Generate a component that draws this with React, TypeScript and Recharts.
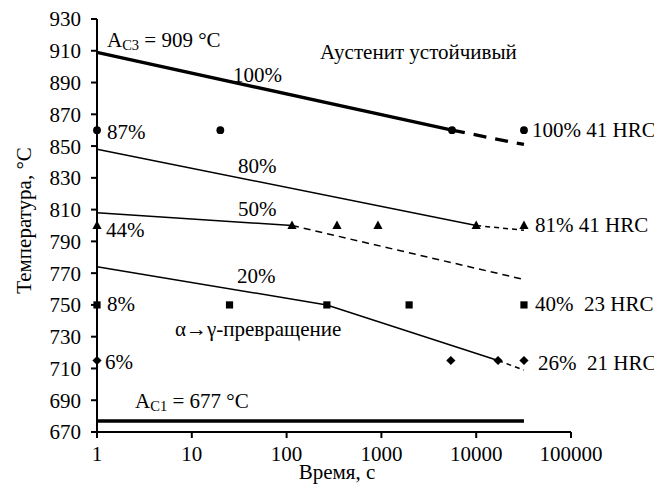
import React from 'react';
import { ComposedChart, Line, Scatter, XAxis, YAxis, ReferenceDot } from 'recharts';

const FONT = 'Liberation Serif';
const FS = 21;

const xTicks = [1, 10, 100, 1000, 10000, 100000];
const yTicks = [670, 690, 710, 730, 750, 770, 790, 810, 830, 850, 870, 890, 910, 930];

// measured points
const circles = [{ x: 1, y: 860 }, { x: 20, y: 860 }, { x: 5560, y: 860 }, { x: 31900, y: 860 }];
const triangles = [{ x: 1, y: 800 }, { x: 114, y: 800 }, { x: 340, y: 800 }, { x: 920, y: 800 }, { x: 10000, y: 800 }, { x: 31900, y: 800 }];
const squares = [{ x: 1, y: 750 }, { x: 25, y: 750 }, { x: 266, y: 750 }, { x: 1960, y: 750 }, { x: 31900, y: 750 }];
const diamonds = [{ x: 1, y: 715 }, { x: 5400, y: 715 }, { x: 17000, y: 715 }, { x: 31900, y: 715 }];

// iso-lines
const line100Solid = [{ x: 1, y: 909 }, { x: 5560, y: 860 }];
const line100Dash = [{ x: 5560, y: 860 }, { x: 31900, y: 851 }];
const line80Solid = [{ x: 1, y: 848 }, { x: 10000, y: 800 }];
const line80Dash = [{ x: 10000, y: 800 }, { x: 31900, y: 797 }];
const line50Solid = [{ x: 1, y: 808 }, { x: 114, y: 800 }];
const line50Dash = [{ x: 114, y: 800 }, { x: 31900, y: 766 }];
const line20Solid = [{ x: 1, y: 774 }, { x: 266, y: 750 }, { x: 17000, y: 715 }];
const line20Dash = [{ x: 17000, y: 715 }, { x: 31900, y: 709 }];
const ac1Line = [{ x: 1, y: 677 }, { x: 31900, y: 677 }];

// annotations: position in data units, text start-anchored
const plainLabels = [
  { x: 27.2, y: 894.8, text: '100%' },
  { x: 225, y: 909.4, text: 'Аустенит устойчивый' },
  { x: 1.275, y: 859, text: '87%' },
  { x: 38800, y: 860, text: '100% 41 HRC' },
  { x: 30.7, y: 837.5, text: '80%' },
  { x: 30.7, y: 810.7, text: '50%' },
  { x: 1.245, y: 797, text: '44%' },
  { x: 41700, y: 800.6, text: '81% 41 HRC' },
  { x: 30, y: 768.5, text: '20%' },
  { x: 1.275, y: 750.8, text: '8%' },
  { x: 6.65, y: 735, text: 'α→γ-превращение' },
  { x: 1.214, y: 714.2, text: '6%' },
  { x: 41700, y: 750.8, text: '40%  23 HRC' },
  { x: 44900, y: 713.2, text: '26%  21 HRC' },
];
const subLabels = [
  { x: 1.275, y: 916.9, main: 'A', sub: 'C3', rest: ' = 909 °C' },
  { x: 2.52, y: 689.4, main: 'A', sub: 'C1', rest: ' = 677 °C' },
];

const CircleShape = (p: any) => <circle cx={p.cx} cy={p.cy} r={3.9} fill="#000" />;
const TriangleShape = (p: any) => (
  <polygon points={`${p.cx},${p.cy - 5} ${p.cx + 4.6},${p.cy + 3.6} ${p.cx - 4.6},${p.cy + 3.6}`} fill="#000" />
);
const SquareShape = (p: any) => <rect x={p.cx - 3.6} y={p.cy - 3.6} width={7.2} height={7.2} fill="#000" />;
const DiamondShape = (p: any) => (
  <polygon points={`${p.cx},${p.cy - 4.6} ${p.cx + 4.6},${p.cy} ${p.cx},${p.cy + 4.6} ${p.cx - 4.6},${p.cy}`} fill="#000" />
);

const makePlain = (text: string) => (props: any) => {
  const vb = props.viewBox || {};
  return (
    <text x={vb.x} y={vb.y} textAnchor="start" dominantBaseline="central" fontFamily={FONT} fontSize={FS} fill="#000" style={{ whiteSpace: 'pre' }}>
      {text}
    </text>
  );
};

const makeSub = (main: string, sub: string, rest: string) => (props: any) => {
  const vb = props.viewBox || {};
  return (
    <text x={vb.x} y={vb.y} textAnchor="start" dominantBaseline="central" fontFamily={FONT} fontSize={FS} fill="#000" style={{ whiteSpace: 'pre' }}>
      <tspan>{main}</tspan>
      <tspan dy={5} fontSize={14.5}>{sub}</tspan>
      <tspan dy={-5}>{rest}</tspan>
    </text>
  );
};

const YLabel = (props: any) => {
  const vb = props.viewBox || {};
  const cx = vb.x + 16;
  const cy = vb.y + vb.height / 2 - 5;
  return (
    <text x={cx} y={cy} transform={`rotate(-90, ${cx}, ${cy})`} textAnchor="middle" dominantBaseline="central" fontFamily={FONT} fontSize={FS} fill="#000">
      Температура, °C
    </text>
  );
};

const XLabel = (props: any) => {
  const vb = props.viewBox || {};
  const cx = vb.x + vb.width / 2 + 3;
  const cy = vb.y + 40;
  return (
    <text x={cx} y={cy} textAnchor="middle" dominantBaseline="central" fontFamily={FONT} fontSize={FS} fill="#000">
      Время, с
    </text>
  );
};

const tickStyle = { fontFamily: FONT, fontSize: FS, fill: '#000' };

export default function App() {
  return (
    <div style={{ width: 654, height: 484, background: '#fff' }}>
      <ComposedChart width={654} height={484} margin={{ top: 11, right: 91, bottom: 0, left: 0 }}>
        <XAxis
          dataKey="x"
          type="number"
          scale="log"
          domain={[1, 100000]}
          ticks={xTicks}
          interval={0}
          height={60}
          tick={tickStyle}
          tickSize={6}
          tickMargin={8}
          axisLine={{ stroke: '#000', strokeWidth: 2 }}
          tickLine={{ stroke: '#000', strokeWidth: 2 }}
          label={<XLabel />}
        />
        <YAxis
          dataKey="y"
          type="number"
          domain={[670, 930]}
          ticks={yTicks}
          interval={0}
          width={89}
          tick={tickStyle}
          tickSize={6}
          tickMargin={10}
          axisLine={{ stroke: '#000', strokeWidth: 2 }}
          tickLine={{ stroke: '#000', strokeWidth: 2 }}
          label={<YLabel />}
        />

        <Line data={ac1Line} dataKey="y" stroke="#000" strokeWidth={3.5} dot={false} isAnimationActive={false} />
        <Line data={line100Solid} dataKey="y" stroke="#000" strokeWidth={3.3} dot={false} isAnimationActive={false} />
        <Line data={line100Dash} dataKey="y" stroke="#000" strokeWidth={3.3} strokeDasharray="13 9" dot={false} isAnimationActive={false} />
        <Line data={line80Solid} dataKey="y" stroke="#000" strokeWidth={1.5} dot={false} isAnimationActive={false} />
        <Line data={line80Dash} dataKey="y" stroke="#000" strokeWidth={1.5} strokeDasharray="5 4" dot={false} isAnimationActive={false} />
        <Line data={line50Solid} dataKey="y" stroke="#000" strokeWidth={1.5} dot={false} isAnimationActive={false} />
        <Line data={line50Dash} dataKey="y" stroke="#000" strokeWidth={1.5} strokeDasharray="7 5" dot={false} isAnimationActive={false} />
        <Line data={line20Solid} dataKey="y" stroke="#000" strokeWidth={1.5} dot={false} isAnimationActive={false} />
        <Line data={line20Dash} dataKey="y" stroke="#000" strokeWidth={1.5} strokeDasharray="5 4" dot={false} isAnimationActive={false} />

        <Scatter data={circles} dataKey="y" shape={CircleShape} isAnimationActive={false} />
        <Scatter data={triangles} dataKey="y" shape={TriangleShape} isAnimationActive={false} />
        <Scatter data={squares} dataKey="y" shape={SquareShape} isAnimationActive={false} />
        <Scatter data={diamonds} dataKey="y" shape={DiamondShape} isAnimationActive={false} />

        {plainLabels.map((l, i) => (
          <ReferenceDot key={'p' + i} x={l.x} y={l.y} r={0} fill="none" stroke="none" label={makePlain(l.text)} />
        ))}
        {subLabels.map((l, i) => (
          <ReferenceDot key={'s' + i} x={l.x} y={l.y} r={0} fill="none" stroke="none" label={makeSub(l.main, l.sub, l.rest)} />
        ))}
      </ComposedChart>
    </div>
  );
}
